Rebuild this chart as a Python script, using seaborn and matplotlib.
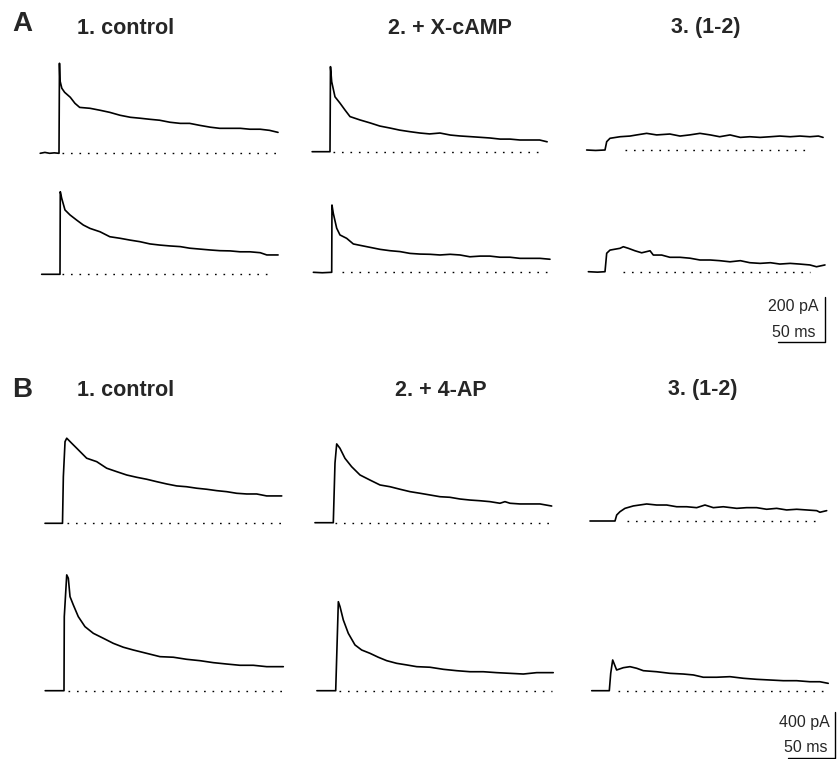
import matplotlib
matplotlib.use("Agg")
import matplotlib.pyplot as plt
import seaborn as sns
import pandas as pd

# ---- trace data: time (ms, 0 = stimulus onset) and current (pA) ----
# panel A, top row
a1_ctrl_t = [-20, -15, -10, -5, 0, 0.5, 1, 3, 6, 12, 17, 22, 33, 44, 54, 65, 76, 86, 97, 107, 118, 129, 139, 150, 161, 171, 182, 193, 203, 214, 224, 233]
a1_ctrl_i = [0, 4, 0, 2, 0, 400, 324, 289, 271, 249, 222, 204, 200, 191, 182, 169, 160, 156, 151, 147, 138, 133, 133, 124, 116, 111, 111, 111, 107, 107, 102, 93]
a1_camp_t = [-19, -10, 0, 0.5, 1.8, 5.3, 10.6, 16, 21.3, 32, 42.6, 53, 64, 74, 85, 95.7, 106, 117, 128, 138, 149, 159.6, 170, 181, 191.5, 202, 213, 223, 231]
a1_camp_i = [0, 0, 0, 378, 311, 244, 216, 185, 156, 141, 128, 114, 105, 96, 89, 83, 79, 83, 74, 70, 67, 64, 61, 56, 56, 52, 52, 52, 44]
a1_diff_t = [-19.5, -10, 0, 1.8, 5.3, 16, 26.6, 33.7, 44.3, 55, 69, 79.8, 90, 101, 112, 122, 133, 144, 154, 165, 176, 186, 197, 207.4, 218, 227, 232]
a1_diff_i = [0, -2, 0, 37, 52, 59, 62, 67, 74, 67, 71, 62, 67, 74, 67, 59, 67, 56, 59, 56, 59, 62, 59, 62, 59, 62, 56]
# panel A, bottom row
a2_ctrl_t = [-19.5, -10, 0, 0.3, 1.8, 5.3, 10.6, 17.7, 24.8, 31.9, 42.6, 53, 64, 74.5, 85, 95.7, 106, 117, 128, 138, 149, 160, 170, 181, 191.5, 202, 213, 220, 232]
a2_ctrl_i = [0, 0, 0, 367, 338, 286, 264, 241, 219, 204, 189, 167, 160, 152, 145, 135, 130, 126, 123, 116, 112, 108, 105, 104, 100, 100, 96, 86, 86]
a2_camp_t = [-19.5, -10, 0, 0.3, 1.7, 5.3, 8.8, 15.9, 23, 30, 40.7, 51.4, 62, 72.7, 83.3, 94, 104.6, 115.2, 126, 136.5, 147, 158, 168.4, 179, 189.7, 200.3, 211, 221.6, 232.2]
a2_camp_i = [0, -2, 0, 299, 262, 196, 166, 151, 126, 120, 111, 102, 96, 92, 84, 81, 80, 77, 80, 77, 69, 72, 72, 67, 67, 62, 62, 62, 58]
a2_diff_t = [-17.7, -8, 0, 1.8, 5.3, 10.6, 16, 19.5, 24.8, 31.9, 39, 47.9, 51.4, 60.3, 69, 79.8, 90.4, 101, 112, 122, 133, 144, 154, 165, 176, 186, 197, 207, 218, 225, 234]
a2_diff_i = [0, -2, 0, 82, 96, 100, 104, 111, 104, 93, 84, 93, 74, 74, 64, 64, 60, 52, 52, 49, 44, 49, 40, 37, 40, 34, 37, 34, 30, 22, 30]
# panel B, top row
b1_ctrl_t = [-18.6, -10, 0, 0.9, 2.7, 4.5, 9.8, 15.1, 25.7, 36.4, 47, 57.7, 68.3, 79, 89.6, 100.2, 110.9, 121.5, 132, 142.8, 153.4, 164, 174.7, 185.3, 196, 206.6, 217.2, 233.2]
b1_ctrl_i = [0, 0, 0, 405, 710, 740, 696, 653, 566, 536, 479, 449, 420, 400, 383, 362, 342, 325, 318, 305, 296, 284, 275, 261, 255, 255, 238, 238]
b1_4ap_t = [-19.5, -10, 0, 1.8, 3.6, 7.1, 12.4, 19.5, 28.4, 39, 49.7, 60.3, 70.9, 81.6, 92.2, 102.9, 113.5, 124, 134.8, 145.4, 156, 166.7, 177.3, 182.6, 188, 198.6, 209.3, 219.9, 232.3]
b1_4ap_i = [0, 0, 0, 519, 685, 647, 560, 487, 415, 371, 328, 313, 291, 270, 256, 241, 226, 221, 206, 197, 191, 183, 169, 183, 169, 163, 163, 163, 145]
b1_diff_t = [-26.6, -15, 0, 1.8, 5.3, 10.6, 19.5, 33.7, 44.3, 55, 65.6, 76.3, 86.9, 95.7, 104.6, 115.2, 129.5, 140, 150.7, 161.3, 172, 182.6, 193.3, 203.9, 214.6, 218, 225.2]
b1_diff_i = [0, 0, 0, 52, 81, 110, 131, 148, 139, 139, 124, 124, 116, 139, 116, 124, 110, 116, 116, 102, 110, 96, 102, 96, 90, 76, 90]
# panel B, bottom row
b2_ctrl_t = [-20, -10, 0, 0.3, 2.9, 4.6, 6.4, 9.9, 15.2, 22.3, 31.2, 41.8, 52.4, 63.1, 73.7, 87.9, 102.1, 116.3, 130.5, 144.7, 158.8, 173, 187.2, 201.4, 215.6, 233.3]
b2_ctrl_i = [0, 0, 0, 644, 1007, 978, 818, 746, 644, 557, 499, 456, 412, 378, 354, 325, 296, 291, 273, 261, 244, 232, 221, 221, 209, 209]
b2_4ap_t = [-20, -10, 0, 2.8, 4.6, 8.1, 13.4, 20.5, 27.6, 36.5, 45.3, 54.3, 64.9, 75.5, 86.2, 100.3, 114.5, 128.7, 142.9, 157, 171.2, 185.4, 199.6, 213.8, 231.4]
b2_4ap_i = [0, 0, 0, 774, 731, 615, 499, 398, 354, 325, 291, 261, 238, 224, 209, 204, 186, 174, 165, 165, 157, 151, 145, 157, 157]
b2_diff_t = [-18.7, -10, 0, 1.5, 3.6, 7.8, 14.9, 22, 29.1, 36.2, 50.4, 64.6, 78.7, 89.4, 100, 114.2, 128.4, 142.6, 156.8, 171, 185.1, 199.3, 213.4, 224, 232.9]
b2_diff_i = [0, 0, 0, 151, 267, 180, 200, 209, 195, 174, 165, 151, 145, 137, 117, 117, 122, 108, 99, 93, 87, 87, 78, 78, 64]

# dotted zero lines (start, end in ms)
zero_a = [(3, 233), (3, 226), (21, 216), (2, 225), (10.6, 230), (19.5, 218)]
zero_b = [(4.5, 233), (1.8, 232), (12.4, 216), (4, 232), (4, 230), (9.6, 231)]

titles_a = ["1. control", "2. + X-cAMP", "3. (1-2)"]
titles_b = ["1. control", "2. + 4-AP", "3. (1-2)"]

# ---- layout (pixels in an 840x759 figure) ----
W, H = 840, 759
PX_MS = 0.94           # px per ms, both panels
PX_PA_A = 45 / 200     # px per pA, panel A
PX_PA_B = 46 / 400     # px per pA, panel B
T_LIM = (-30, 245)

sns.set_style("white")
plt.rcParams["font.family"] = ["Liberation Sans", "DejaVu Sans"]

fig = plt.figure(figsize=(W / 100, H / 100), dpi=100)


def trace_axes(onset_px, base_px, px_pa, i_lim):
    left = onset_px + T_LIM[0] * PX_MS
    width = (T_LIM[1] - T_LIM[0]) * PX_MS
    bottom = base_px - i_lim[0] * px_pa
    height = (i_lim[1] - i_lim[0]) * px_pa
    ax = fig.add_axes([left / W, 1 - bottom / H, width / W, height / H])
    ax.set_xlim(*T_LIM)
    ax.set_ylim(*i_lim)
    ax.axis("off")
    return ax


def draw(ax, t, i, zero):
    df = pd.DataFrame({"t": t, "i": i})
    sns.lineplot(data=df, x="t", y="i", ax=ax, color="black", lw=1.2,
                 sort=False, estimator=None)
    ax.plot(zero, [0, 0], color="black", lw=1.0, ls=(0, (1.2, 4.9)))


traces_a = [(a1_ctrl_t, a1_ctrl_i), (a1_camp_t, a1_camp_i), (a1_diff_t, a1_diff_i),
            (a2_ctrl_t, a2_ctrl_i), (a2_camp_t, a2_camp_i), (a2_diff_t, a2_diff_i)]
traces_b = [(b1_ctrl_t, b1_ctrl_i), (b1_4ap_t, b1_4ap_i), (b1_diff_t, b1_diff_i),
            (b2_ctrl_t, b2_ctrl_i), (b2_4ap_t, b2_4ap_i), (b2_diff_t, b2_diff_i)]

pos_a = [(59, 153.3), (330, 151.7), (605, 150), (60, 274.3), (331.7, 272.3), (605, 271.7)]
pos_b = [(62.5, 523.3), (333.3, 522.7), (615, 521), (64, 690.7), (335.7, 690.7), (609.3, 690.7)]

for (t, i), (x0, y0), z in zip(traces_a, pos_a, zero_a):
    ax_a = trace_axes(x0, y0, PX_PA_A, (-20, 420))
    draw(ax_a, t, i, z)
# scale bar A: 200 pA / 50 ms, drawn in the last A axes
ax_a.plot([234, 234, 184], [-111, -311, -311], color="black", lw=1.0, clip_on=False)

for (t, i), (x0, y0), z in zip(traces_b, pos_b, zero_b):
    ax_b = trace_axes(x0, y0, PX_PA_B, (-50, 1050))
    draw(ax_b, t, i, z)
# scale bar B: 400 pA / 50 ms
ax_b.plot([240, 240, 190], [-183, -583, -583], color="black", lw=1.0, clip_on=False)


def ftext(x, y, s, **kw):
    fig.text(x / W, 1 - y / H, s, va="center", **kw)


ftext(22, 24, "A", ha="center", fontsize=20, fontweight="bold")
ftext(22, 390, "B", ha="center", fontsize=20, fontweight="bold")
for s, x in zip(titles_a, [126, 450, 706]):
    ftext(x, 28, s, ha="center", fontsize=15.5, fontweight="bold")
for s, x in zip(titles_b, [126, 441, 703]):
    ftext(x, 390, s, ha="center", fontsize=15.5, fontweight="bold")

ftext(818, 307, "200 pA", ha="right", fontsize=11.5)
ftext(815, 332, "50 ms", ha="right", fontsize=11.5)
ftext(830, 723, "400 pA", ha="right", fontsize=11.5)
ftext(827, 747, "50 ms", ha="right", fontsize=11.5)

fig.savefig("out.png", dpi=100, facecolor="white")
